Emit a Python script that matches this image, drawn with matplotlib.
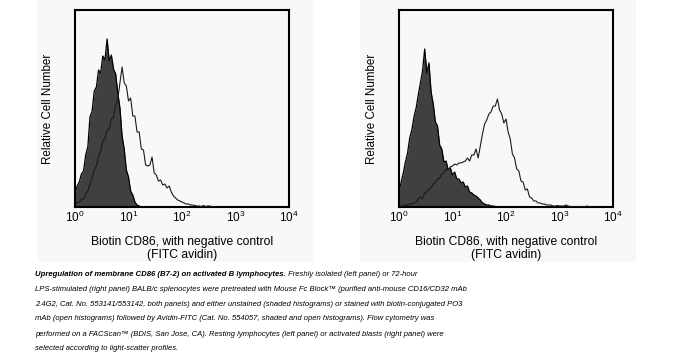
import numpy as np
import matplotlib
matplotlib.use('Agg')
from matplotlib import pyplot as plt
from matplotlib.patches import Rectangle
from matplotlib.ticker import NullLocator

plt.rcParams['font.family'] = ['Liberation Sans', 'DejaVu Sans']

# histogram heights, one value per 0.04-decade channel starting at 10^0
LOG_STEP = 0.04
left_shaded = [14, 21, 25, 33, 36, 52, 60, 90, 96, 116, 120, 137, 134, 151, 147, 168,
               146, 152, 138, 133, 114, 99, 71, 58, 37, 30, 16, 12, 5, 2, 1, 0]
left_open = [3, 4, 5, 8, 8, 13, 16, 23, 29, 37, 41, 51, 56, 66, 68, 77, 78, 88, 90, 102,
             108, 124, 140, 124, 121, 106, 109, 91, 91, 75, 75, 58, 57, 42, 41, 42,
             50, 34, 32, 26, 27, 22, 23, 19, 21, 15, 11, 9, 7, 6, 5, 4, 3, 3, 2, 2,
             1.5, 1, 1, 0.5, 1.5, 0.5, 1, 1, 0.5, 0]
right_shaded = [15, 25, 34, 45, 54, 69, 77, 90, 99, 112, 124, 136, 158, 134, 144, 115,
                103, 85, 81, 62, 58, 45, 46, 37, 39, 32, 35, 28, 28, 24, 25, 20, 21,
                15, 14, 12, 11, 9, 7, 4, 3, 2, 2, 1, 1, 0.5, 0]
right_open = [0.5, 1, 1, 2, 2, 3, 3, 4, 5, 8, 10, 8, 14, 15, 18, 19, 23, 25, 28, 29,
              33, 34, 38, 37, 40, 41, 43, 42, 44, 44, 45, 46, 49, 46, 52, 52, 58, 49,
              61, 73, 83, 87, 93, 95, 101, 101, 108, 97, 93, 84, 88, 75, 68, 53, 49, 38,
              36, 26, 25, 17, 18, 10, 9, 6, 6, 4, 4, 3, 3, 2, 2, 2, 1, 1, 1.5, 1, 1, 1,
              2, 1, 0.5, 0.5, 0, 0, 0.5, 0.5, 0, 0.5, 1, 0]

tick_labels = [r'$\mathregular{10^{%d}}$' % k for k in range(5)]
xlabel = 'Biotin CD86, with negative control\n(FITC avidin)'
ylabel = 'Relative Cell Number'
caption_bold = 'Upregulation of membrane CD86 (B7-2) on activated B lymphocytes.'
caption_lines = [
    ' Freshly isolated (left panel) or 72-hour',
    'LPS-stimulated (right panel) BALB/c splenocytes were pretreated with Mouse Fc Block\u2122 (purified anti-mouse CD16/CD32 mAb',
    '2.4G2, Cat. No. 553141/553142, both panels) and either unstained (shaded histograms) or stained with biotin-conjugated PO3',
    'mAb (open histograms) followed by Avidin-FITC (Cat. No. 554057, shaded and open histograms). Flow cytometry was',
    'performed on a FACScan\u2122 (BDIS, San Jose, CA). Resting lymphocytes (left panel) or activated blasts (right panel) were',
    'selected according to light-scatter profiles.',
]

W, H = 678, 352
fig = plt.figure(figsize=(W / 100, H / 100), dpi=100)
fig.patch.set_facecolor('white')

BG = '#f8f8f8'
for x0, x1 in [(37, 313), (360, 636)]:
    fig.patches.append(Rectangle((x0 / W, 1 - 262 / H), (x1 - x0) / W, 262 / H,
                                 transform=fig.transFigure, facecolor=BG,
                                 edgecolor='none', zorder=-5))


def channels(vals):
    return 10 ** (np.arange(len(vals)) * LOG_STEP)


def panel(left_px, shaded, opened):
    ax = fig.add_axes([left_px / W, 1 - 207 / H, 214 / W, 197 / H])
    ax.set_zorder(2)
    ax.set_facecolor(BG)
    xs = channels(shaded)
    ax.fill_between(xs, shaded, color='#404040', lw=0, zorder=2)
    ax.plot(xs, shaded, color='black', lw=0.9, zorder=3)
    ax.plot(channels(opened), opened, color='#1a1a1a', lw=0.8, zorder=4)
    ax.set_xscale('log')
    ax.set_xlim(1, 1e4)
    ax.set_ylim(0, 197)
    ax.set_xticks([10 ** k for k in range(5)])
    ax.set_xticklabels(tick_labels)
    ax.xaxis.set_minor_locator(NullLocator())
    ax.set_yticks([])
    ax.tick_params(axis='x', length=0, pad=2, labelsize=8.5, colors='black')
    for s in ax.spines.values():
        s.set_linewidth(1.5)
        s.set_color('black')
    ax.set_xlabel(xlabel, fontsize=8.7, labelpad=8, linespacing=1.15)
    ax.set_ylabel(ylabel, fontsize=8.4, labelpad=15)
    return ax


panel(75, left_shaded, left_open)
panel(399, right_shaded, right_open)

# caption
line_y = [275, 289, 304, 319, 334, 348]
cap_size = 5.5
t0 = fig.text(35 / W, 1 - line_y[0] / H, caption_bold, fontsize=cap_size + 0.1,
              fontweight='bold', style='italic', va='center', ha='left')
fig.canvas.draw()
bb = t0.get_window_extent(fig.canvas.get_renderer())
fig.text(bb.x1 / W, 1 - line_y[0] / H, caption_lines[0], fontsize=cap_size,
         style='italic', va='center', ha='left')
for y, line in zip(line_y[1:], caption_lines[1:]):
    fig.text(35 / W, 1 - y / H, line, fontsize=cap_size, style='italic',
             va='center', ha='left')

fig.savefig('out.png', dpi=100, facecolor='white')
